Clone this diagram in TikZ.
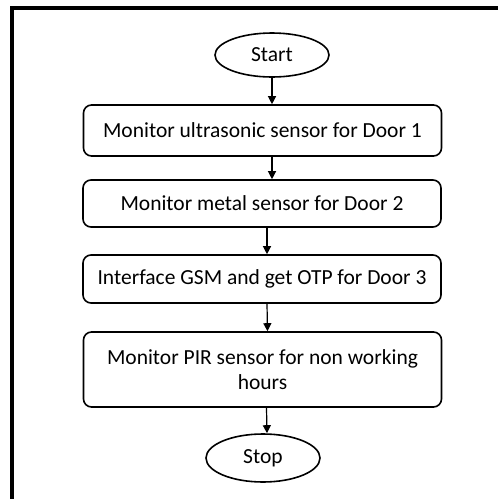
\documentclass[tikz,border=0pt]{standalone}
\usepackage{fontspec}
\setmainfont{Carlito}
\usetikzlibrary{shapes.geometric,arrows.meta}
\begin{document}
\begin{tikzpicture}[x=1pt,y=-1pt,
	terminal/.style={ellipse,draw,line width=1.6pt,minimum width=114pt,minimum height=44pt,inner sep=0pt},
	stepbox/.style={rectangle,rounded corners=8pt,draw,line width=1.6pt,minimum width=358pt,inner sep=0pt,align=center},
	flow/.style={line width=1.2pt,-{Triangle[length=8pt,width=8pt]}},
	font=\fontsize{21.5}{25}\selectfont]
	
	\useasboundingbox (0,0) rectangle (498,499);
	
	% frame
	\draw[line width=4pt] (12,499) -- (12,8) -- (498,8);
	
	% steps
	\node[terminal] (start) at (272,55) {Start};
	\node[stepbox,minimum height=51pt] (door1) at (262.5,130.5) {Monitor ultrasonic sensor for Door 1};
	\node[stepbox,minimum height=47pt] (door2) at (262,203.5) {Monitor metal sensor for Door 2};
	\node[stepbox,minimum height=48pt] (door3) at (262,279) {Interface GSM and get OTP for Door 3};
	\node[stepbox,minimum height=75pt] (pir) at (262.5,369.5) {Monitor PIR sensor for non working\\hours};
	\node[terminal,minimum height=48pt] (stop) at (263,458) {Stop};
	
	% arrows
	\draw[flow] (start) -- (start |- door1.north);
	\draw[flow] (door1.south -| start) -- (door2.north -| start);
	\draw[flow] ([xshift=5pt]door2.south) -- ([xshift=5pt]door3.north);
	\draw[flow] ([xshift=5pt]door3.south) -- ([xshift=5pt]pir.north);
	\draw[flow] ([xshift=4pt]pir.south) -- ([xshift=4pt]stop.north);
	
\end{tikzpicture}
\end{document}
